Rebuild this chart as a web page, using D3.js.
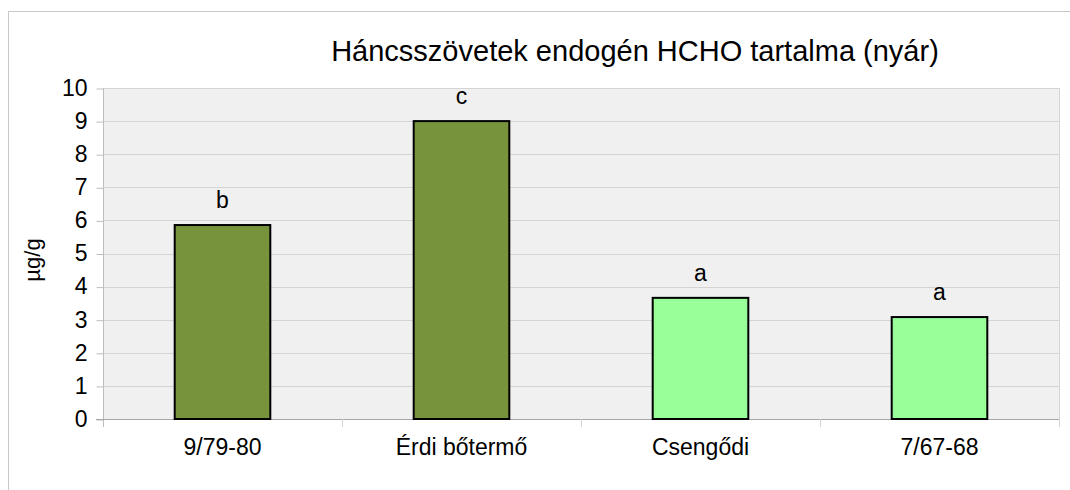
<!DOCTYPE html>
<html>
<head>
<meta charset="utf-8">
<script src="https://cdn.jsdelivr.net/npm/d3@7"></script>
<style>
  html, body { margin: 0; padding: 0; background: #fff; }
  svg { display: block; font-family: "Liberation Sans", Arial, sans-serif; }
</style>
</head>
<body>
<svg id="chart" width="1070" height="490"></svg>
<script>
// Endogenous HCHO content of bark tissues (summer), µg/g
const categories = ["9/79-80", "Érdi bőtermő", "Csengődi", "7/67-68"];
const values = [5.86, 9.0, 3.66, 3.08];
const letters = ["b", "c", "a", "a"];
const barColors = ["#77933C", "#77933C", "#99FF99", "#99FF99"];
const yTicks = [0, 1, 2, 3, 4, 5, 6, 7, 8, 9, 10];

const FONT = "'Liberation Sans', Arial, sans-serif";
const svg = d3.select("#chart");
const plot = { left: 103, right: 1059, top: 88, bottom: 419 };

// chart frame
svg.append("rect")
  .attr("x", 8.5).attr("y", 11.5)
  .attr("width", 1080).attr("height", 500)
  .attr("fill", "#fff").attr("stroke", "#c8c8c8").attr("stroke-width", 1);

const x = d3.scaleBand().domain(categories)
  .range([plot.left, plot.right]).paddingInner(0.6).paddingOuter(0.3);
const xOuter = d3.scaleBand().domain(categories)
  .range([plot.left, plot.right]).padding(0);
const y = d3.scaleLinear().domain([0, 10]).range([plot.bottom, plot.top]);

// plot background
svg.append("rect")
  .attr("x", plot.left).attr("y", plot.top)
  .attr("width", plot.right - plot.left).attr("height", plot.bottom - plot.top)
  .attr("fill", "#f0f0f0");

// gridlines
svg.append("g").selectAll("line").data(yTicks.filter(d => d > 0)).join("line")
  .attr("x1", plot.left).attr("x2", plot.right)
  .attr("y1", d => Math.round(y(d)) + 0.5).attr("y2", d => Math.round(y(d)) + 0.5)
  .attr("stroke", "#d4d4d4").attr("stroke-width", 1);

// right edge of plot
svg.append("line")
  .attr("x1", plot.right + 0.5).attr("x2", plot.right + 0.5)
  .attr("y1", plot.top).attr("y2", plot.bottom)
  .attr("stroke", "#d4d4d4");

// y axis
const yAxis = svg.append("g")
  .attr("transform", `translate(${plot.left + 0.5},0)`)
  .call(d3.axisLeft(y).tickValues(yTicks).tickSize(7).tickPadding(9));
yAxis.select(".domain").remove();
yAxis.selectAll(".tick line").attr("stroke", "#bdbdbd")
  .attr("transform", "translate(0,0.5)");
yAxis.selectAll("text").attr("font-size", 23).attr("fill", "#000")
  .attr("font-family", FONT);
svg.append("line")
  .attr("x1", plot.left + 0.5).attr("x2", plot.left + 0.5)
  .attr("y1", plot.top).attr("y2", plot.bottom + 8)
  .attr("stroke", "#bdbdbd");

// x axis baseline and category separators
svg.append("line")
  .attr("x1", plot.left - 7).attr("x2", plot.right)
  .attr("y1", plot.bottom + 0.5).attr("y2", plot.bottom + 0.5)
  .attr("stroke", "#a6a6a6");
svg.append("g").selectAll("line").data(categories).join("line")
  .attr("x1", d => Math.round(xOuter(d) + xOuter.bandwidth()) + 0.5)
  .attr("x2", d => Math.round(xOuter(d) + xOuter.bandwidth()) + 0.5)
  .attr("y1", plot.bottom).attr("y2", plot.bottom + 8)
  .attr("stroke", "#d4d4d4");

// category labels
svg.append("g").selectAll("text").data(categories).join("text")
  .attr("x", d => xOuter(d) + xOuter.bandwidth() / 2)
  .attr("y", plot.bottom + 36)
  .attr("text-anchor", "middle").attr("font-size", 23).attr("fill", "#000")
  .text(d => d);

// bars
svg.append("g").selectAll("rect").data(values).join("rect")
  .attr("x", (d, i) => x(categories[i]))
  .attr("y", d => y(d))
  .attr("width", x.bandwidth())
  .attr("height", d => y(0) - y(d))
  .attr("fill", (d, i) => barColors[i])
  .attr("stroke", "#000").attr("stroke-width", 2);

// significance letters
svg.append("g").selectAll("text").data(values).join("text")
  .attr("x", (d, i) => x(categories[i]) + x.bandwidth() / 2)
  .attr("y", d => y(d) - 17)
  .attr("text-anchor", "middle").attr("font-size", 23).attr("fill", "#000")
  .text((d, i) => letters[i]);

// y axis title
svg.append("text")
  .attr("transform", "translate(40,260) rotate(-90)")
  .attr("text-anchor", "middle").attr("font-size", 22).attr("fill", "#000")
  .text("µg/g");

// chart title
svg.append("text")
  .attr("x", 635).attr("y", 61)
  .attr("text-anchor", "middle").attr("font-size", 29).attr("fill", "#000")
  .text("Háncsszövetek endogén HCHO tartalma (nyár)");
</script>
</body>
</html>
